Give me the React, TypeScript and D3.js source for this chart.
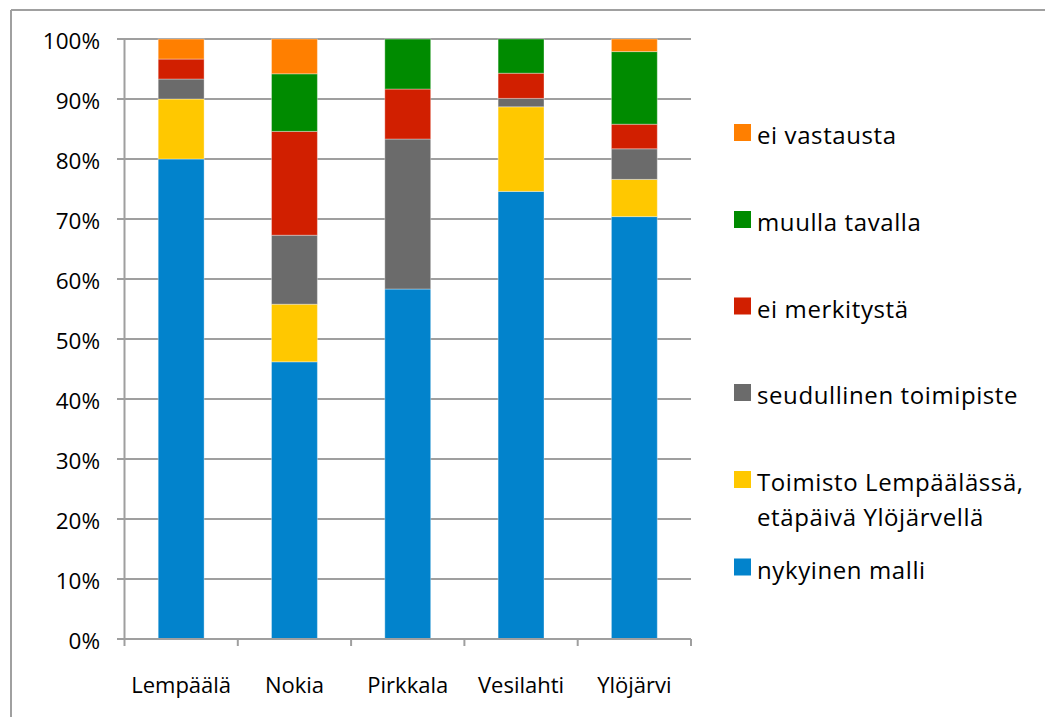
import React from "react";
import * as d3 from "d3";

const categories = ["Lempäälä", "Nokia", "Pirkkala", "Vesilahti", "Ylöjärvi"];
const seriesNames = [
  "nykyinen malli",
  "Toimisto Lempäälässä, etäpäivä Ylöjärvellä",
  "seudullinen toimipiste",
  "ei merkitystä",
  "muulla tavalla",
  "ei vastausta",
];
const nykyinenMalli = [80, 46.2, 58.33, 74.6, 70.4];
const toimistoLempaala = [10, 9.6, 0, 14.1, 6.2];
const seudullinen = [3.33, 11.5, 25, 1.4, 5.1];
const eiMerkitysta = [3.33, 17.3, 8.33, 4.2, 4.1];
const muullaTavalla = [0, 9.6, 8.33, 5.7, 12.1];
const eiVastausta = [3.33, 5.8, 0, 0, 2.1];
const yTicks = [0, 10, 20, 30, 40, 50, 60, 70, 80, 90, 100];
const colors = ["#0283cc", "#ffc800", "#6b6b6b", "#d11f00", "#008b00", "#ff7f00"];

const seriesValues = [nykyinenMalli, toimistoLempaala, seudullinen, eiMerkitysta, muullaTavalla, eiVastausta];

const W = 1045;
const H = 717;
const FONT = "'Open Sans', Lato, sans-serif";

export default function App() {
  const x = d3.scaleBand<string>().domain(categories).range([124.5, 691]).paddingInner(0).paddingOuter(0);
  const y = d3.scaleLinear().domain([0, 100]).range([639, 39]);
  const barW = x.bandwidth() * 0.405;

  const rows = categories.map((c, i) => {
    const r: any = { cat: c };
    seriesNames.forEach((s, j) => (r[s] = seriesValues[j][i]));
    return r;
  });
  const stacked = d3.stack<any>().keys(seriesNames)(rows);

  const legendItems = [...seriesNames].reverse();
  const legendSwatchTop = [124, 211, 297.5, 384, 471, 558.5];
  const legendLines: Record<string, string[]> = {
    "Toimisto Lempäälässä, etäpäivä Ylöjärvellä": ["Toimisto Lempäälässä,", "etäpäivä Ylöjärvellä"],
  };

  return (
    <svg
      width={W}
      height={H}
      style={{ position: "absolute", left: 0, top: 0, background: "#fff" }}
      fontFamily={FONT}
    >
      <rect x={0} y={0} width={W} height={H} fill="#fff" />
      {/* outer border */}
      <line x1={11} y1={10} x2={W} y2={10} stroke="#a0a0a0" strokeWidth={2} />
      <line x1={11} y1={10} x2={11} y2={H} stroke="#a0a0a0" strokeWidth={2} />

      {/* gridlines */}
      {yTicks.map((t) => (
        <g key={t}>
          <line x1={117} x2={691} y1={y(t)} y2={y(t)} stroke="#9f9f9f" strokeWidth={2} />
          <text x={100} y={y(t) + 10} textAnchor="end" fontSize={22.5} fill="#000">
            {t}%
          </text>
        </g>
      ))}
      {/* y axis */}
      <line x1={124.5} x2={124.5} y1={39} y2={639} stroke="#9f9f9f" strokeWidth={2} />

      {/* bars */}
      {stacked.map((layer, j) => (
        <g key={j} fill={colors[j]}>
          {layer.map((d, i) => {
            const h = y(d[0]) - y(d[1]);
            if (h <= 0) return null;
            return (
              <rect
                key={i}
                x={(x(categories[i]) as number) + (x.bandwidth() - barW) / 2}
                y={y(d[1])}
                width={barW}
                height={h}
                stroke="rgba(255,255,255,0.35)"
                strokeWidth={1}
              />
            );
          })}
        </g>
      ))}

      {/* x axis */}
      <line x1={124.5} x2={691} y1={639} y2={639} stroke="#9f9f9f" strokeWidth={2} />
      {[...categories.map((c) => x(c) as number), 691].map((v, i) => (
        <line key={i} x1={v} x2={v} y1={639} y2={646} stroke="#9f9f9f" strokeWidth={2} />
      ))}
      {categories.map((c) => (
        <text
          key={c}
          x={(x(c) as number) + x.bandwidth() / 2}
          y={693}
          textAnchor="middle"
          fontSize={22}
          fill="#000"
        >
          {c}
        </text>
      ))}

      {/* legend */}
      {legendItems.map((s, k) => {
        const idx = seriesNames.indexOf(s);
        const top = legendSwatchTop[k];
        const lines = legendLines[s] || [s];
        return (
          <g key={s}>
            <rect x={734} y={top} width={17} height={17} fill={colors[idx]} />
            {lines.map((ln, li) => (
              <text
                key={li}
                x={757}
                y={top + 20 + li * 35}
                fontSize={24}
                letterSpacing={0.6}
                fill="#000"
              >
                {ln}
              </text>
            ))}
          </g>
        );
      })}
    </svg>
  );
}
